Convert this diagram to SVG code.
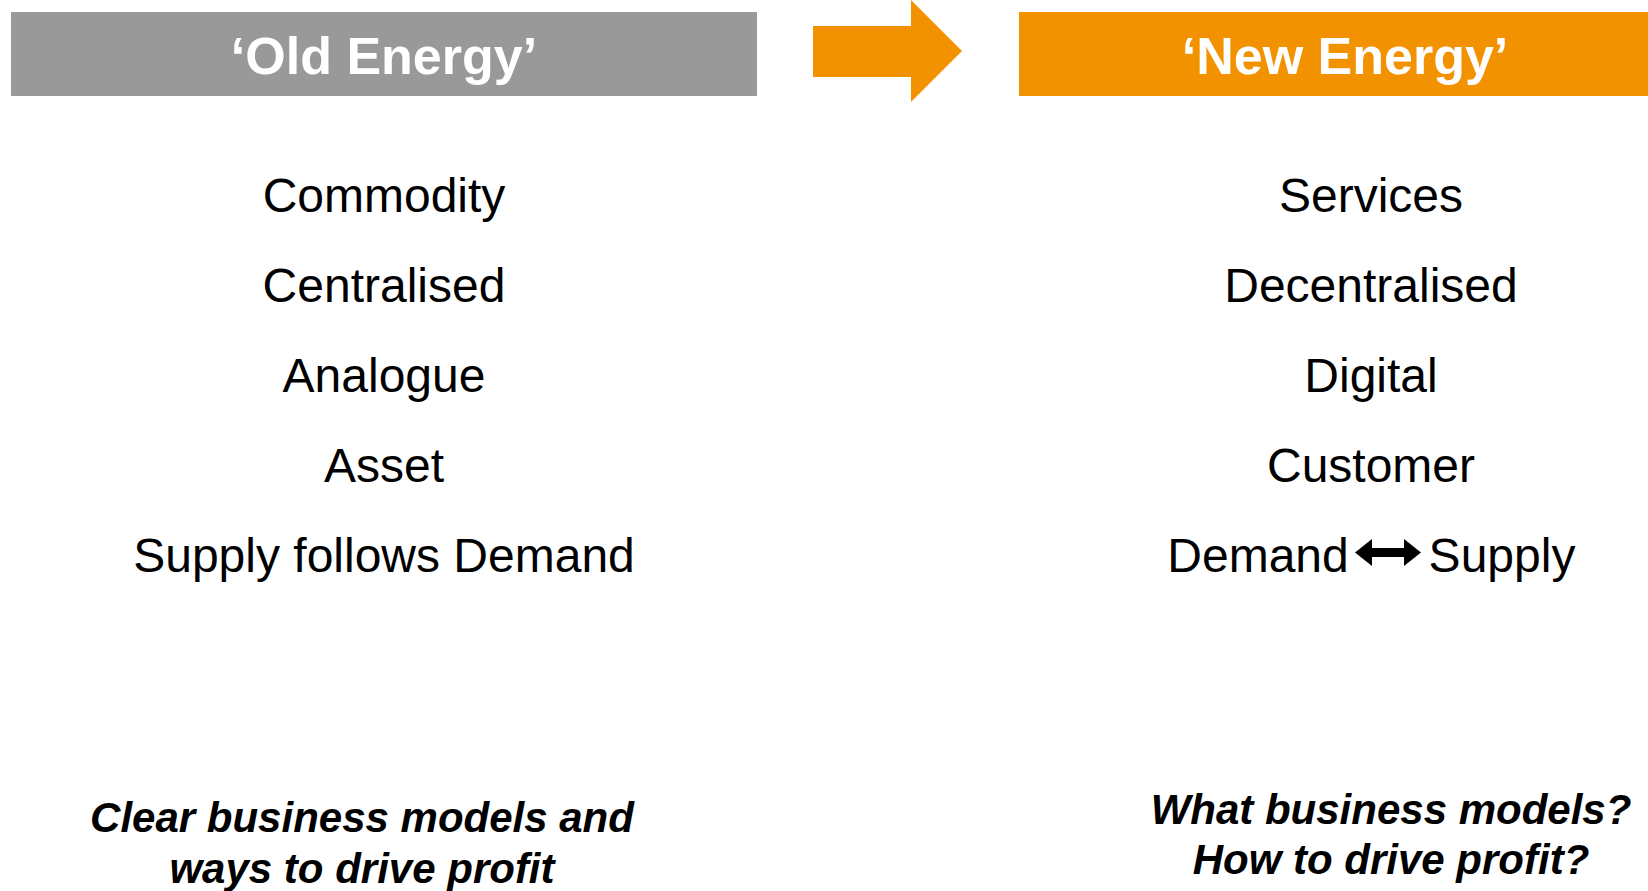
<svg xmlns="http://www.w3.org/2000/svg" width="1648" height="891" viewBox="0 0 1648 891">
<style>
.hdr{font-family:"Liberation Sans",Arial,sans-serif;font-size:52px;font-weight:bold;fill:#fff;text-anchor:middle}
.item{font-family:"Liberation Sans",Arial,sans-serif;font-size:48px;fill:#000;text-anchor:middle}
.itl{font-family:"Liberation Sans",Arial,sans-serif;font-size:42px;font-weight:bold;font-style:italic;fill:#000;text-anchor:middle}
</style>
<rect width="1648" height="891" fill="#fff"/>
<g id="old-header">
<rect x="11" y="12" width="746" height="84" fill="#999999"/>
<text class="hdr" x="384" y="74">‘Old Energy’</text>
</g>
<g id="transition-arrow">
<polygon points="813,26 911,26 911,0 962,51 911,102 911,77 813,77" fill="#F39200"/>
</g>
<g id="new-header">
<rect x="1019" y="12" width="640" height="84" fill="#F39200"/>
<text class="hdr" x="1345" y="74">‘New Energy’</text>
</g>
<g id="old-list">
<text class="item" x="384" y="212">Commodity</text>
<text class="item" x="384" y="302">Centralised</text>
<text class="item" x="384" y="392">Analogue</text>
<text class="item" x="384" y="482">Asset</text>
<text class="item" x="384" y="572">Supply follows Demand</text>
</g>
<g id="new-list">
<text class="item" x="1371" y="212">Services</text>
<text class="item" x="1371" y="302">Decentralised</text>
<text class="item" x="1371" y="392">Digital</text>
<text class="item" x="1371" y="482">Customer</text>
<text class="item" x="1258" y="572">Demand</text>
<text class="item" x="1502" y="572">Supply</text>
</g>
<g id="connectors">
<polygon points="1355,552.5 1372,539 1372,548 1404,548 1404,539 1421,552.5 1404,566 1404,557 1372,557 1372,566" fill="#000"/>
</g>
<g id="old-note">
<text class="itl" x="362" y="832">Clear business models and</text>
<text class="itl" x="362" y="883">ways to drive profit</text>
</g>
<g id="new-note">
<text class="itl" x="1391" y="824">What business models?</text>
<text class="itl" x="1391" y="874">How to drive profit?</text>
</g>
</svg>
